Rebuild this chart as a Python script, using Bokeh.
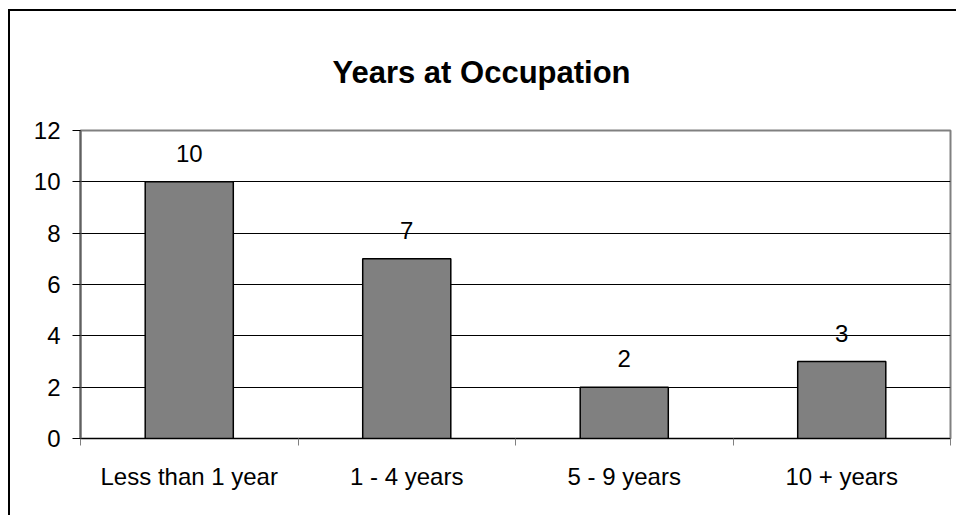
from bokeh.plotting import figure
from bokeh.models import (ColumnDataSource, Range1d, LinearAxis,
                          FixedTicker, Title)
from bokeh.core.properties import value
from bokeh.embed import file_html
from bokeh.resources import INLINE

categories = ["Less than 1 year", "1 - 4 years", "5 - 9 years", "10 + years"]
counts = [10, 7, 2, 3]
y_ticks = [0, 2, 4, 6, 8, 10, 12]
title_text = "Years at Occupation"

FONT = "Liberation Sans"

n = len(categories)
centers = [i + 0.5 for i in range(n)]
bounds = list(range(n + 1))
source = ColumnDataSource(dict(x=centers, cat=categories, val=counts,
                               lab=[str(v) for v in counts]))

p = figure(width=948, height=506, output_backend="svg", toolbar_location=None,
           x_range=Range1d(0, n), y_range=Range1d(0, 12),
           x_axis_location=None, y_axis_location=None,
           min_border_left=70, min_border_right=8, min_border_top=119,
           min_border_bottom=79)
p.styles = {"margin-left": "8px", "margin-top": "9px",
            "border-top": "2px solid black", "border-left": "2px solid black",
            "border-right": "none", "border-bottom": "none"}

p.title = Title(text=title_text, align="left", offset=252, standoff=82,
                text_font=FONT, text_font_size="31px", text_font_style="bold",
                text_color="black")

p.outline_line_color = "#808080"
p.outline_line_width = 2
p.background_fill_color = "white"
p.border_fill_color = "white"

# y axis
yax = LinearAxis(ticker=FixedTicker(ticks=y_ticks))
yax.major_label_text_font = FONT
yax.major_label_text_font_size = "24px"
yax.major_label_text_color = "black"
yax.major_label_standoff = 12
yax.major_tick_out = 8
yax.major_tick_in = 0
yax.major_tick_line_color = "black"
yax.minor_tick_line_color = None
yax.axis_line_color = "#606060"
yax.axis_line_width = 2
p.add_layout(yax, "left")

# category axis: labels at centres, boundary ticks as minor ticks
cax = LinearAxis(ticker=FixedTicker(ticks=centers, minor_ticks=bounds))
cax.major_label_overrides = {c: cat for c, cat in zip(centers, categories)}
cax.major_label_text_font = FONT
cax.major_label_text_font_size = "24px"
cax.major_label_text_color = "black"
cax.major_label_standoff = 17
cax.major_tick_out = 0
cax.major_tick_in = 0
cax.major_tick_line_color = None
cax.minor_tick_out = 7
cax.minor_tick_in = 0
cax.minor_tick_line_color = "#808080"
cax.minor_tick_line_width = 1
cax.axis_line_color = "black"
cax.axis_line_width = 1
p.add_layout(cax, "below")

p.xgrid.visible = False
p.ygrid.ticker = FixedTicker(ticks=y_ticks)
p.ygrid.grid_line_color = "black"
p.ygrid.grid_line_width = 1

p.vbar(x="x", top="val", width=0.405, source=source,
       fill_color="#808080", line_color="black", line_width=1.5)

p.text(x="x", y="val", text="lab", source=source, y_offset=-20,
       text_align="center", text_baseline="bottom",
       text_font=value(FONT), text_font_size="24px", text_color="black")

open("out.html", "w").write(file_html(p, INLINE))
